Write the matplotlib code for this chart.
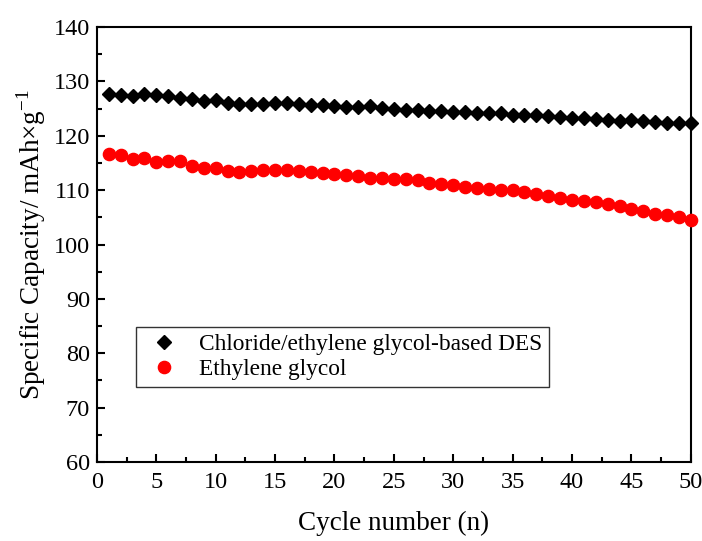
import numpy as np
import matplotlib
matplotlib.use("Agg")
import matplotlib.pyplot as plt
from matplotlib.ticker import MultipleLocator


cycles = np.arange(1, 51)
des_capacity = [
    127.7, 127.5, 127.3, 127.6, 127.5, 127.4, 127.0, 126.7, 126.4, 126.6,
    126.1, 125.9, 125.8, 125.8, 126.0, 126.0, 125.9, 125.7, 125.7, 125.5,
    125.3, 125.3, 125.4, 125.2, 124.9, 124.8, 124.7, 124.6, 124.5, 124.4,
    124.3, 124.2, 124.2, 124.1, 123.9, 123.8, 123.8, 123.7, 123.5, 123.3,
    123.2, 123.0, 122.9, 122.7, 122.9, 122.7, 122.5, 122.4, 122.3, 122.3,
]
eg_capacity = [
    116.7, 116.5, 115.8, 116.0, 115.2, 115.3, 115.3, 114.5, 114.1, 114.0,
    113.6, 113.4, 113.5, 113.7, 113.8, 113.7, 113.6, 113.3, 113.1, 112.9,
    112.7, 112.6, 112.3, 112.2, 112.0, 112.0, 111.9, 111.4, 111.2, 110.9,
    110.6, 110.4, 110.2, 110.0, 110.0, 109.7, 109.3, 108.9, 108.6, 108.2,
    108.0, 107.8, 107.4, 107.0, 106.5, 106.1, 105.7, 105.4, 105.1, 104.5,
]

plt.rcParams["font.family"] = ["Liberation Serif", "DejaVu Serif"]
plt.rcParams["mathtext.fontset"] = "custom"
plt.rcParams["mathtext.rm"] = "Liberation Serif"

fig = plt.figure(figsize=(7.02, 5.41), dpi=100)
ax = fig.add_axes([0.138, 0.146, 0.846, 0.804])

ax.plot(cycles, des_capacity, "D", color="black", markersize=6.8,
        clip_on=False, zorder=3, label="Chloride/ethylene glycol-based DES")
ax.plot(cycles, eg_capacity, "o", color="#ff0000", markersize=8.8,
        clip_on=False, zorder=3, label="Ethylene glycol")

ax.set_xlim(0, 50)
ax.set_ylim(60, 140)
ax.xaxis.set_major_locator(MultipleLocator(5))
ax.xaxis.set_minor_locator(MultipleLocator(2.5))
ax.yaxis.set_major_locator(MultipleLocator(10))
ax.yaxis.set_minor_locator(MultipleLocator(5))
ax.tick_params(which="both", direction="in", top=False, right=False,
               labelsize=17.5, width=1.5)
ax.tick_params(which="major", length=6)
ax.tick_params(axis="x", which="major", pad=7)
ax.tick_params(axis="y", which="major", pad=5)
ax.tick_params(which="minor", length=3.5)
for s in ax.spines.values():
    s.set_linewidth(1.5)

ax.set_xlabel("Cycle number (n)", fontsize=19.5, labelpad=13)
ax.set_ylabel(r"Specific Capacity/ mAh×g$^{\mathregular{-1}}$", fontsize=19.5, labelpad=4)

leg = ax.legend(loc="lower left", bbox_to_anchor=(0.066, 0.172), fontsize=16.8,
                frameon=True, fancybox=False, edgecolor="black", borderpad=0.3,
                handletextpad=0.6, handlelength=1.8, labelspacing=0.15,
                borderaxespad=0)
leg.get_frame().set_linewidth(1.0)

fig.savefig("out.png", dpi=100)
